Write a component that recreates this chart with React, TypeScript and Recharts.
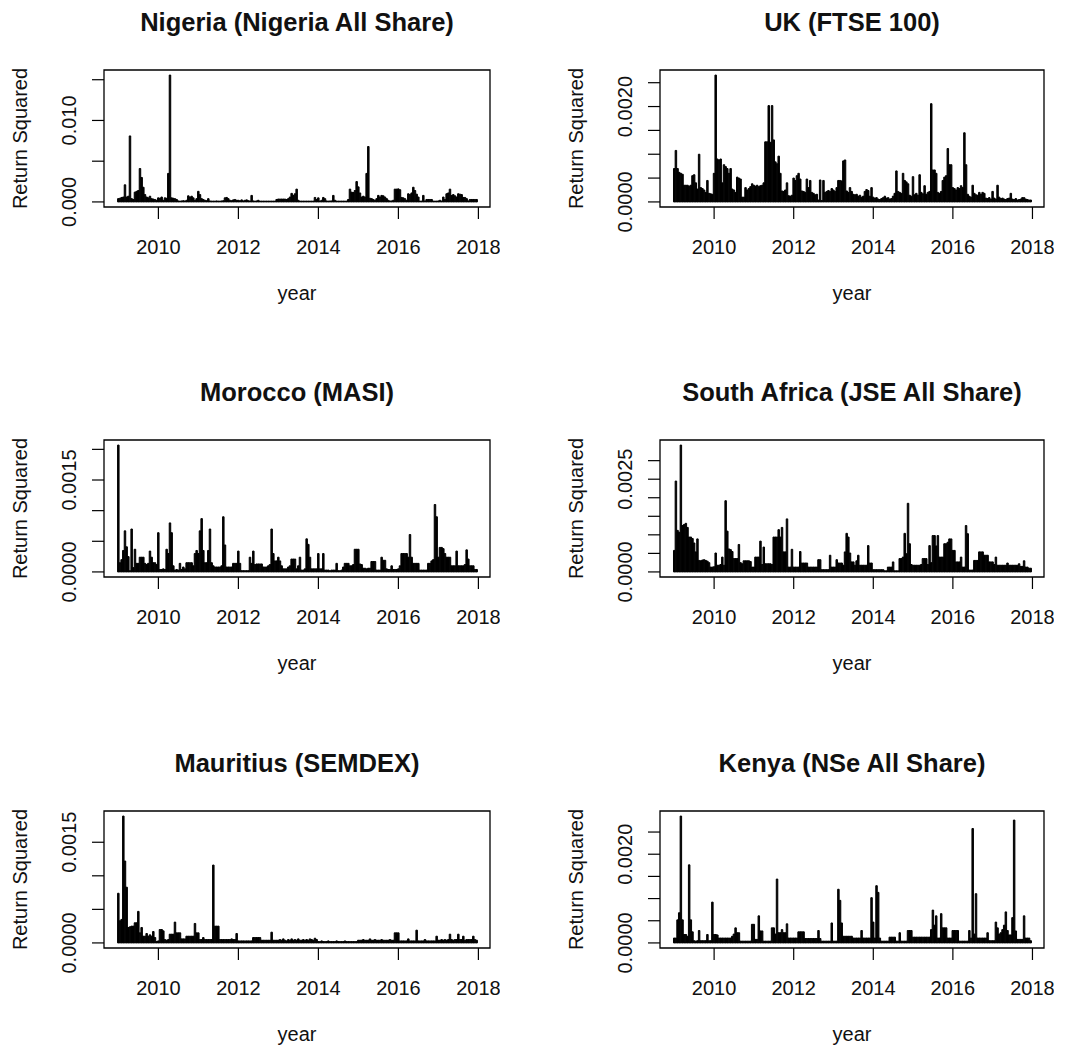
import React from "react";
import { BarChart, Bar, XAxis, YAxis, ReferenceArea } from "recharts";

// squared returns, read twice a month from Jan 2009 to Dec 2017, in units of 1e-5
const nigeria = [
  40, 45, 55, 60, 210, 60, 70, 810, 40, 30, 120, 130, 140, 410, 300, 180, 90, 60, 50, 70, 40, 35, 30, 20,
  50, 45, 60, 20, 50, 45, 350, 1557, 50, 45, 40, 30, 12, 10, 12, 15, 12, 20, 75, 60, 70, 50, 20, 40,
  130, 90, 40, 30, 20, 15, 40, 12, 10, 10, 10, 12, 10, 10, 12, 15, 50, 55, 40, 20, 15, 25, 30, 20,
  20, 15, 25, 12, 20, 25, 15, 12, 80, 12, 10, 12, 20, 10, 10, 10, 10, 10, 10, 10, 10, 10, 10, 30,
  35, 35, 35, 35, 35, 30, 40, 60, 105, 80, 100, 157, 20, 10, 10, 10, 10, 10, 10, 10, 10, 10, 55, 30,
  50, 12, 20, 55, 40, 12, 10, 12, 12, 80, 20, 10, 10, 10, 10, 10, 10, 10, 30, 157, 120, 115, 140, 250,
  185, 110, 60, 70, 60, 350, 680, 45, 40, 30, 20, 40, 80, 60, 80, 75, 60, 40, 20, 12, 12, 20, 157, 157,
  160, 150, 55, 50, 40, 20, 100, 90, 110, 180, 140, 95, 60, 10, 10, 80, 12, 30, 30, 30, 30, 10, 10, 10,
  12, 20, 10, 60, 30, 100, 110, 157, 80, 90, 75, 60, 100, 95, 90, 55, 55, 40, 12, 30, 30, 30, 30, 30,
];

const uk = [
  70, 108, 70, 62, 60, 58, 35, 35, 35, 33, 35, 55, 57, 40, 27, 100, 30, 28, 25, 20, 45, 18, 17, 16,
  60, 266, 90, 88, 90, 40, 78, 74, 70, 60, 70, 27, 25, 20, 52, 50, 48, 10, 10, 30, 25, 28, 32, 38,
  35, 33, 35, 32, 34, 35, 40, 126, 126, 202, 125, 202, 130, 84, 80, 96, 60, 23, 22, 25, 40, 13, 12, 14,
  50, 45, 55, 60, 48, 23, 22, 20, 48, 30, 45, 20, 18, 15, 16, 4, 46, 3, 45, 20, 22, 24, 22, 28,
  25, 22, 30, 45, 45, 44, 86, 88, 23, 20, 30, 22, 16, 15, 16, 12, 14, 10, 12, 22, 26, 24, 12, 30,
  10, 8, 9, 6, 5, 7, 9, 12, 8, 9, 6, 7, 12, 18, 65, 22, 20, 18, 60, 45, 42, 38, 14, 12,
  53, 15, 18, 14, 57, 20, 17, 34, 16, 20, 22, 206, 67, 67, 60, 20, 18, 22, 45, 52, 55, 112, 78, 78,
  30, 28, 25, 30, 28, 34, 30, 145, 78, 16, 12, 10, 35, 18, 15, 14, 20, 16, 20, 18, 8, 7, 9, 6,
  22, 8, 6, 35, 10, 7, 8, 6, 5, 7, 8, 18, 6, 5, 7, 4, 5, 6, 9, 9, 6, 5, 4, 4,
];

const morocco = [
  207, 15, 20, 35, 67, 41, 25, 2, 70, 7, 37, 14, 14, 24, 24, 24, 14, 12, 14, 34, 24, 15, 15, 12,
  64, 4, 4, 5, 4, 37, 30, 80, 64, 10, 3, 4, 3, 14, 4, 8, 5, 15, 15, 15, 15, 10, 30, 35,
  30, 67, 87, 35, 15, 15, 35, 70, 15, 10, 8, 8, 8, 8, 10, 90, 44, 8, 8, 8, 8, 14, 14, 14,
  34, 14, 2, 2, 2, 2, 2, 24, 14, 34, 12, 13, 13, 13, 13, 8, 8, 8, 10, 12, 70, 30, 18, 18,
  24, 18, 10, 5, 5, 5, 8, 10, 21, 21, 21, 5, 10, 24, 3, 3, 5, 54, 45, 24, 5, 5, 5, 5,
  30, 5, 5, 30, 3, 3, 3, 2, 3, 3, 3, 14, 2, 2, 3, 8, 14, 14, 14, 10, 10, 12, 37, 37,
  37, 13, 12, 6, 6, 5, 6, 6, 17, 17, 17, 3, 3, 3, 24, 19, 19, 5, 4, 4, 10, 4, 4, 4,
  5, 10, 30, 30, 30, 30, 24, 61, 24, 14, 14, 14, 14, 3, 3, 3, 3, 3, 14, 14, 18, 20, 110, 90,
  24, 40, 40, 38, 30, 24, 24, 24, 10, 10, 10, 34, 10, 10, 10, 10, 12, 36, 21, 10, 10, 10, 4, 4,
];

const southAfrica = [
  58, 245, 112, 107, 342, 125, 128, 131, 120, 94, 94, 90, 78, 54, 89, 31, 30, 32, 33, 31, 29, 25, 13, 13,
  14, 51, 18, 18, 20, 40, 18, 192, 110, 62, 60, 55, 36, 36, 36, 74, 25, 22, 30, 30, 30, 30, 28, 13,
  13, 40, 40, 40, 83, 20, 67, 22, 22, 22, 22, 20, 94, 94, 94, 114, 94, 120, 54, 54, 143, 13, 13, 61,
  13, 13, 13, 13, 55, 24, 24, 24, 24, 13, 13, 13, 13, 13, 13, 33, 33, 6, 6, 6, 6, 6, 45, 13,
  13, 13, 33, 24, 24, 24, 18, 54, 104, 94, 51, 27, 27, 18, 30, 45, 18, 18, 18, 18, 18, 71, 24, 24,
  6, 6, 6, 6, 6, 6, 6, 3, 3, 13, 13, 13, 27, 3, 3, 3, 36, 36, 40, 104, 49, 185, 76, 20,
  18, 18, 18, 18, 18, 20, 36, 36, 36, 20, 71, 25, 98, 98, 70, 98, 40, 40, 40, 76, 76, 80, 89, 89,
  58, 58, 27, 27, 27, 40, 13, 13, 125, 103, 5, 5, 5, 31, 31, 31, 54, 54, 54, 45, 45, 45, 27, 27,
  27, 20, 40, 18, 18, 18, 18, 18, 18, 24, 18, 18, 18, 18, 18, 18, 22, 15, 15, 30, 13, 13, 10, 10,
];

const mauritius = [
  74, 33, 35, 189, 122, 83, 23, 24, 25, 25, 30, 30, 47, 15, 23, 10, 10, 14, 10, 12, 10, 17, 8, 2,
  3, 20, 20, 18, 5, 4, 5, 13, 13, 13, 31, 15, 15, 15, 6, 6, 6, 10, 10, 10, 10, 10, 29, 15,
  15, 5, 5, 8, 5, 5, 5, 5, 5, 116, 25, 25, 25, 5, 5, 5, 5, 5, 5, 5, 6, 5, 5, 14,
  3, 3, 3, 3, 3, 3, 3, 3, 3, 8, 8, 8, 8, 8, 4, 4, 4, 4, 4, 4, 16, 4, 4, 4,
  4, 5, 4, 6, 4, 3, 5, 4, 6, 4, 5, 4, 6, 4, 4, 5, 4, 5, 4, 6, 5, 4, 7, 5,
  2, 2, 3, 2, 2, 2, 3, 2, 2, 2, 2, 3, 2, 2, 2, 2, 3, 2, 2, 2, 2, 2, 2, 2,
  4, 4, 4, 5, 4, 4, 4, 6, 4, 4, 5, 4, 4, 4, 5, 4, 4, 4, 4, 5, 4, 4, 15, 15,
  15, 3, 3, 3, 3, 3, 6, 3, 3, 3, 3, 19, 3, 3, 3, 3, 5, 3, 3, 3, 3, 3, 3, 10,
  4, 4, 5, 4, 5, 4, 5, 13, 5, 4, 5, 5, 13, 5, 5, 10, 4, 5, 5, 5, 5, 10, 5, 4,
];

const kenya = [
  11, 11, 52, 68, 286, 52, 19, 19, 15, 176, 52, 25, 5, 4, 5, 28, 5, 5, 5, 5, 19, 5, 5, 92,
  19, 19, 18, 11, 11, 11, 11, 11, 11, 11, 11, 15, 20, 34, 23, 23, 4, 4, 4, 4, 4, 4, 4, 42,
  42, 8, 8, 61, 27, 27, 4, 4, 4, 4, 4, 34, 34, 20, 144, 23, 23, 30, 23, 23, 43, 11, 11, 11,
  11, 11, 11, 25, 25, 25, 25, 10, 10, 10, 10, 10, 10, 10, 10, 28, 10, 4, 4, 4, 4, 4, 4, 45,
  4, 4, 4, 121, 96, 45, 15, 15, 15, 15, 15, 15, 11, 11, 11, 11, 11, 28, 11, 11, 11, 11, 11, 102,
  47, 11, 129, 114, 11, 4, 4, 4, 4, 4, 13, 13, 13, 13, 4, 4, 23, 4, 4, 4, 4, 28, 28, 28,
  13, 13, 13, 13, 13, 13, 13, 13, 13, 13, 13, 30, 74, 40, 61, 11, 11, 66, 34, 34, 34, 11, 11, 11,
  28, 28, 28, 28, 4, 4, 4, 4, 4, 4, 28, 11, 258, 20, 111, 11, 11, 11, 11, 11, 11, 23, 5, 5,
  5, 5, 47, 34, 20, 23, 30, 40, 70, 28, 18, 18, 57, 277, 27, 8, 8, 8, 8, 61, 11, 11, 11, 5,
];

const START_YEAR = 2009;
const PER_YEAR = 24;
const UNIT = 1e-5;

const yearTicks = [2010, 2012, 2014, 2016, 2018];

const nigeriaTicks = [0, 0.005, 0.01, 0.015];
const nigeriaTickLabels = ["0.000", "", "0.010", ""];
const ukTicks = [0, 0.0005, 0.001, 0.0015, 0.002, 0.0025];
const ukTickLabels = ["0.0000", "", "", "", "0.0020", ""];
const moroccoTicks = [0, 0.0005, 0.001, 0.0015, 0.002];
const moroccoTickLabels = ["0.0000", "", "", "0.0015", ""];
const southAfricaTicks = [0, 0.0005, 0.001, 0.0015, 0.002, 0.0025, 0.003];
const southAfricaTickLabels = ["0.0000", "", "", "", "", "0.0025", ""];
const mauritiusTicks = [0, 0.0005, 0.001, 0.0015];
const mauritiusTickLabels = ["0.0000", "", "", "0.0015"];
const kenyaTicks = [0, 0.0005, 0.001, 0.0015, 0.002, 0.0025];
const kenyaTickLabels = ["0.0000", "", "", "", "0.0020", ""];

const FONT = '"Liberation Sans", Arial, Helvetica, sans-serif';
const INK = "#111";

// plot boxes in page pixels
const COLS = [
  { left: 104, right: 490 },
  { left: 660, right: 1044 },
];
const ROWS = [
  { top: 70, bottom: 207 },
  { top: 440, bottom: 577 },
  { top: 811, bottom: 948 },
];
const X_DOMAIN: [number, number] = [2008.64, 2018.29];

const PAD_LEFT = 100;
const PAD_TOP = 10;
const PAD_RIGHT = 10;
const PAD_BOTTOM = 60;

type PanelSpec = {
  title: string;
  values: number[];
  ticks: number[];
  tickLabels: string[];
  col: number;
  row: number;
};

const panels: PanelSpec[] = [
  { title: "Nigeria (Nigeria All Share)", values: nigeria, ticks: nigeriaTicks, tickLabels: nigeriaTickLabels, col: 0, row: 0 },
  { title: "UK (FTSE 100)", values: uk, ticks: ukTicks, tickLabels: ukTickLabels, col: 1, row: 0 },
  { title: "Morocco (MASI)", values: morocco, ticks: moroccoTicks, tickLabels: moroccoTickLabels, col: 0, row: 1 },
  { title: "South Africa (JSE All Share)", values: southAfrica, ticks: southAfricaTicks, tickLabels: southAfricaTickLabels, col: 1, row: 1 },
  { title: "Mauritius (SEMDEX)", values: mauritius, ticks: mauritiusTicks, tickLabels: mauritiusTickLabels, col: 0, row: 2 },
  { title: "Kenya (NSe All Share)", values: kenya, ticks: kenyaTicks, tickLabels: kenyaTickLabels, col: 1, row: 2 },
];

function Panel({ spec }: { spec: PanelSpec }) {
  const { left, right } = COLS[spec.col];
  const { top, bottom } = ROWS[spec.row];
  const plotW = right - left;
  const plotH = bottom - top;

  const data = spec.values.map((v, i) => ({ t: START_YEAR + i / PER_YEAR, r: v * UNIT }));
  const peak = Math.max(...spec.values) * UNIT;
  // R style: 4% padding on both ends
  const yDomain: [number, number] = [-0.04 * peak, 1.04 * peak];

  const plotBottom = PAD_TOP + plotH;
  const labelX = PAD_LEFT - 35;

  return (
    <div style={{ position: "absolute", left: left - PAD_LEFT, top: top - PAD_TOP }}>
      <BarChart
        width={plotW + PAD_LEFT + PAD_RIGHT}
        height={plotH + PAD_TOP + PAD_BOTTOM}
        data={data}
        margin={{ top: PAD_TOP, right: PAD_RIGHT, bottom: 0, left: 0 }}
      >
        <XAxis
          type="number"
          dataKey="t"
          domain={X_DOMAIN}
          allowDataOverflow
          ticks={yearTicks}
          interval={0}
          height={PAD_BOTTOM}
          axisLine={false}
          tickSize={12}
          tickLine={{ stroke: "#000", strokeWidth: 1.2 }}
          tick={(p: any) => (
            <text
              x={p.x}
              y={plotBottom + 40}
              textAnchor="middle"
              dominantBaseline="central"
              fontSize={20}
              fontFamily={FONT}
              fill={INK}
            >
              {p.payload.value}
            </text>
          )}
        />
        <YAxis
          type="number"
          domain={yDomain}
          allowDataOverflow
          ticks={spec.ticks}
          interval={0}
          width={PAD_LEFT}
          axisLine={false}
          tickSize={12}
          tickLine={{ stroke: "#000", strokeWidth: 1.2 }}
          tick={(p: any) => {
            const idx = spec.ticks.findIndex((t) => Math.abs(t - p.payload.value) < 1e-12);
            const label = idx >= 0 ? spec.tickLabels[idx] : "";
            if (!label) return <g />;
            return (
              <text
                x={labelX}
                y={p.y}
                transform={`rotate(-90 ${labelX} ${p.y})`}
                textAnchor="middle"
                dominantBaseline="central"
                fontSize={20}
                fontFamily={FONT}
                fill={INK}
              >
                {label}
              </text>
            );
          }}
        />
        <Bar
          dataKey="r"
          fill="#000"
          stroke="#000"
          strokeWidth={1}
          barSize={2}
          isAnimationActive={false}
        />
        <ReferenceArea
          x1={X_DOMAIN[0]}
          x2={X_DOMAIN[1]}
          y1={yDomain[0]}
          y2={yDomain[1]}
          fill="none"
          stroke="#000"
          strokeWidth={1.3}
          ifOverflow="visible"
        />
      </BarChart>
    </div>
  );
}

function PanelText({ spec }: { spec: PanelSpec }) {
  const { left, right } = COLS[spec.col];
  const { top, bottom } = ROWS[spec.row];
  const cx = (left + right) / 2;
  const cy = (top + bottom) / 2;
  const ylx = left - 77;
  return (
    <g fontFamily={FONT} fill={INK}>
      <text x={cx} y={top - 39} textAnchor="middle" fontSize={25.5} fontWeight="bold">
        {spec.title}
      </text>
      <text x={cx} y={bottom + 93} textAnchor="middle" fontSize={20}>
        year
      </text>
      <text x={ylx} y={cy} transform={`rotate(-90 ${ylx} ${cy})`} textAnchor="middle" fontSize={20}>
        Return Squared
      </text>
    </g>
  );
}

export default function App() {
  return (
    <div
      style={{
        position: "absolute",
        left: 0,
        top: 0,
        width: 1083,
        height: 1052,
        background: "#fff",
        overflow: "hidden",
      }}
    >
      {panels.map((p) => (
        <Panel key={p.title} spec={p} />
      ))}
      <svg
        width={1083}
        height={1052}
        style={{ position: "absolute", left: 0, top: 0, pointerEvents: "none" }}
      >
        {panels.map((p) => (
          <PanelText key={p.title} spec={p} />
        ))}
      </svg>
    </div>
  );
}
